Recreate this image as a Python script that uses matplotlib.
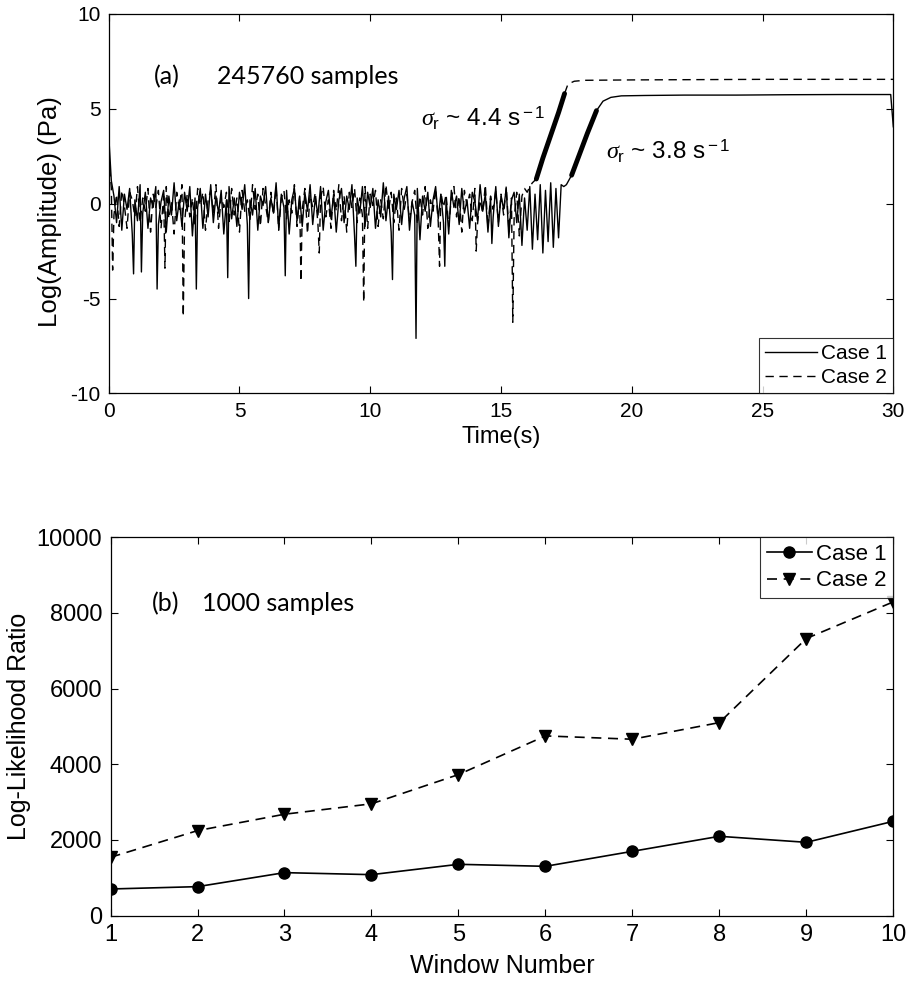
import numpy as np
from matplotlib import pyplot as plt

# ---- panel (a): log amplitude traces (0.1 s grid) ----
case1_noise = [
    3.6, 1.2, 0.4, -1.0, 0.9, -1.4, 0.5, -0.3, 0.8, -1.6,
    0.2, -0.9, 1.0, -0.5, 0.6, -1.3, 0.3, -0.2, 0.9, -1.1,
    0.1, 0.7, -1.5, 0.4, -0.6, 1.1, -0.9, 0.2, -1.2, 0.6,
    -0.4, 0.9, -1.7, 0.3, -0.2, 0.8, -1.3, 0.5, -0.7, 1.0,
    -1.0, 0.4, -0.5, 0.7, -1.6, 0.2, 0.9, -0.8, 0.3, -1.2,
    0.6, -0.3, 1.0, -1.1, 0.2, -0.6, 0.8, -1.4, 0.4, -0.1,
    0.9, -1.0, 0.3, -0.5, 1.1, -1.3, 0.5, -0.2, 0.7, -1.6,
    0.2, 0.8, -0.9, 0.4, -1.2, 0.6, -0.4, 1.0, -1.1, 0.3,
    -0.6, 0.9, -1.4, 0.1, 0.7, -0.8, 0.5, -1.5, 0.2, 0.8,
    -1.0, 0.4, -0.3, 1.0, -1.7, 0.3, -0.5, 0.9, -1.2, 0.6,
    -0.2, 0.8, -1.3, 0.2, -0.7, 1.1, -0.9, 0.4, -1.5, 0.5,
    -0.3, 0.7, -1.1, 0.3, 0.9, -1.4, 0.1, -0.6, 0.8, -1.9,
    0.4, -0.4, 0.6, -1.2, 0.2, 0.9, -0.8, 0.5, -1.0, 0.3,
    -1.6, 0.7, -0.2, 0.4, -1.1, 0.8, -0.5, 0.2, -1.3, 0.6,
    0.1, -0.9, 1.0, -0.4, 0.5, -1.5, 0.3, -0.7, 0.9, -1.2,
    0.4, -0.3, 0.8, -1.8, 0.2, 0.6, -1.0, 0.5, -2.2, 0.3,
    -1.4, 0.9, -2.4, 0.5, -1.9, 1.0, -2.6, 0.7, -2.0, 1.1,
    -2.3, 0.8, -1.8, 1.0, 0.9,
]
case2_noise = [
    2.6, 0.8, -0.6, 0.5, -1.2, 0.7, -0.1, -1.3, 0.6, 0.2,
    -0.7, 0.9, -1.0, 0.3, -0.4, 0.8, -1.5, 0.5, -0.2, 0.7,
    -1.3, 0.4, 0.9, -0.8, 0.1, -1.6, 0.6, -0.3, 1.0, -1.0,
    0.5, -0.7, 0.3, -1.2, 0.8, -0.1, 0.6, -1.4, 0.2, 0.7,
    -0.5, 1.0, -1.3, 0.4, -0.2, 0.6, -1.1, 0.8, -0.6, 0.3,
    -1.5, 0.7, -0.4, 0.2, -0.9, 1.0, -0.3, 0.5, -1.2, 0.8,
    -0.1, -1.0, 0.6, -0.6, 0.9, -1.4, 0.3, 0.7, -0.8, 0.2,
    -0.5, 1.0, -1.2, 0.4, -0.3, 0.8, -1.6, 0.5, -0.2, 0.6,
    -1.1, 0.3, 0.9, -0.7, 0.2, -1.3, 0.7, -0.4, 1.0, -0.9,
    0.4, -1.5, 0.6, -0.2, 0.8, -1.0, 0.3, -0.6, 0.9, -1.3,
    0.5, -0.1, 0.7, -1.2, 0.2, -0.8, 1.0, -0.4, 0.6, -1.0,
    0.3, -1.4, 0.8, -0.3, 0.5, -0.9, 0.1, 0.7, -1.1, 0.4,
    -0.6, 0.9, -1.3, 0.2, -0.4, 0.8, -1.0, 0.6, -0.2, 0.5,
    -1.2, 0.3, 0.9, -0.7, 0.4, -1.5, 0.7, -0.1, 0.5, -0.9,
    0.8, -1.1, 0.2, -0.5, 1.0, -1.3, 0.4, -0.3, 0.7, -1.0,
    0.5, -0.6, 0.9, -1.4, 0.3, -0.8, 0.6, -1.7, 0.4, 0.8,
    0.6, 0.9,
]
# deep dips between grid points
case1_spike_t = [0.95, 1.25, 1.85, 3.35, 4.55, 5.35, 6.75, 9.45, 10.85, 11.75, 12.85, 14.65]
case1_spike_v = [-3.7, -3.6, -4.5, -4.5, -3.9, -5.0, -3.8, -3.3, -4.0, -7.1, -3.3, -2.1]
case2_spike_t = [0.15, 2.15, 2.85, 7.35, 8.05, 9.75, 12.65, 14.05, 15.45]
case2_spike_v = [-3.5, -3.4, -5.95, -4.1, -2.6, -5.2, -3.3, -2.5, -6.25]
# growth and saturation
case1_rise_t = [17.5, 17.7, 18.0, 18.3, 18.65, 18.9, 19.2, 19.6, 20.5, 22, 24, 26, 28, 29.9, 30]
case1_rise_v = [1.0, 1.5, 2.6, 3.7, 4.9, 5.4, 5.6, 5.68, 5.7, 5.72, 5.72, 5.74, 5.75, 5.75, 4.05]
case2_rise_t = [16.2, 16.35, 16.6, 16.9, 17.2, 17.43, 17.56, 17.8, 18.2, 20, 25, 30]
case2_rise_v = [1.1, 1.3, 2.4, 3.6, 4.8, 5.8, 6.3, 6.45, 6.5, 6.52, 6.55, 6.55]
case1_growth = (17.7, 18.65)
case2_growth = (16.35, 17.43)

# ---- panel (b): log-likelihood ratio per window ----
windows = [1, 2, 3, 4, 5, 6, 7, 8, 9, 10]
llr_case1 = [705, 767, 1137, 1084, 1357, 1304, 1700, 2097, 1938, 2493]
llr_case2 = [1542, 2247, 2680, 2955, 3727, 4749, 4661, 5101, 7322, 8290]


def build_trace(noise, spike_t, spike_v, rise_t, rise_v):
    t = np.concatenate([np.arange(len(noise)) * 0.1, spike_t, rise_t])
    v = np.concatenate([noise, spike_v, rise_v])
    order = np.argsort(t, kind='stable')
    return t[order], v[order]


def style_axes(ax, size, family):
    ax.tick_params(direction='in', top=True, right=True, length=5, width=0.8,
                   labelsize=size, pad=6)
    for lab in ax.get_xticklabels() + ax.get_yticklabels():
        lab.set_family(family)
    for sp in ax.spines.values():
        sp.set_linewidth(0.9)


arial = ['Liberation Sans', 'DejaVu Sans']
calibri = ['Lato', 'DejaVu Sans']
plt.rcParams['axes.unicode_minus'] = False
plt.rcParams['mathtext.fontset'] = 'custom'
plt.rcParams['mathtext.rm'] = 'Liberation Sans'
plt.rcParams['mathtext.it'] = 'Liberation Serif:italic'

fig = plt.figure(figsize=(9.06, 9.91), dpi=100)
ax1 = fig.add_axes([0.120, 0.603, 0.866, 0.383])
ax2 = fig.add_axes([0.122, 0.076, 0.864, 0.382])

t1, v1 = build_trace(case1_noise, case1_spike_t, case1_spike_v, case1_rise_t, case1_rise_v)
t2, v2 = build_trace(case2_noise, case2_spike_t, case2_spike_v, case2_rise_t, case2_rise_v)
ax1.plot(t1, v1, color='black', lw=1.0, label='Case 1')
ax1.plot(t2, v2, color='black', lw=1.0, ls=(0, (6, 4)), label='Case 2')
g1 = (t1 >= case1_growth[0]) & (t1 <= case1_growth[1])
g2 = (t2 >= case2_growth[0]) & (t2 <= case2_growth[1])
ax1.plot(t1[g1], v1[g1], color='black', lw=3.5, solid_capstyle='round')
ax1.plot(t2[g2], v2[g2], color='black', lw=3.5, solid_capstyle='round')

ax1.set_xlim(0, 30)
ax1.set_ylim(-10, 10)
ax1.set_xticks([0, 5, 10, 15, 20, 25, 30])
ax1.set_yticks([-10, -5, 0, 5, 10])
style_axes(ax1, 15, arial)
ax1.set_xlabel('Time(s)', fontsize=17, family=arial, labelpad=4)
ax1.set_ylabel('Log(Amplitude) (Pa)', fontsize=18.5, family=arial, labelpad=0)
ax1.yaxis.set_label_coords(-0.06, 0.48)
ax1.text(1.72, 6.7, '(a)', fontsize=18, family=calibri, va='center')
ax1.text(4.14, 6.7, '245760 samples', fontsize=18, family=calibri, va='center')
ax1.text(11.94, 4.47, r'$\mathit{\sigma}_{\rm r}$ ~ 4.4 s$^{\rm -1}$', fontsize=17.5,
         family=arial, va='center')
ax1.text(19.03, 2.74, r'$\mathit{\sigma}_{\rm r}$ ~ 3.8 s$^{\rm -1}$', fontsize=17.5,
         family=arial, va='center')
leg1 = ax1.legend(loc='lower right', prop={'family': arial, 'size': 15},
                  frameon=True, fancybox=False, edgecolor='black', borderaxespad=0,
                  handlelength=2.5, handletextpad=0.2, borderpad=0.3, labelspacing=0.25)
leg1.get_frame().set_linewidth(0.8)

ax2.plot(windows, llr_case1, color='black', lw=1.2, marker='o', ms=8, label='Case 1')
ax2.plot(windows, llr_case2, color='black', lw=1.2, ls=(0, (6, 4)), marker='v', ms=8,
         label='Case 2')
ax2.set_xlim(1, 10)
ax2.set_ylim(0, 10000)
ax2.set_xticks(windows)
ax2.set_yticks([0, 2000, 4000, 6000, 8000, 10000])
style_axes(ax2, 17, arial)
ax2.set_xlabel('Window Number', fontsize=18, family=arial, labelpad=6)
ax2.set_ylabel('Log-Likelihood Ratio', fontsize=18, family=arial, labelpad=4)
ax2.text(1.48, 8240, '(b)', fontsize=18, family=calibri, va='center')
ax2.text(2.05, 8240, '1000 samples', fontsize=18, family=calibri, va='center')
leg2 = ax2.legend(loc='upper right', prop={'family': arial, 'size': 16},
                  frameon=True, fancybox=False, edgecolor='black', borderaxespad=0,
                  handlelength=2.0, handletextpad=0.2, borderpad=0.3, labelspacing=0.25)
leg2.get_frame().set_linewidth(0.8)

fig.savefig('out.png', dpi=100, facecolor='white')
